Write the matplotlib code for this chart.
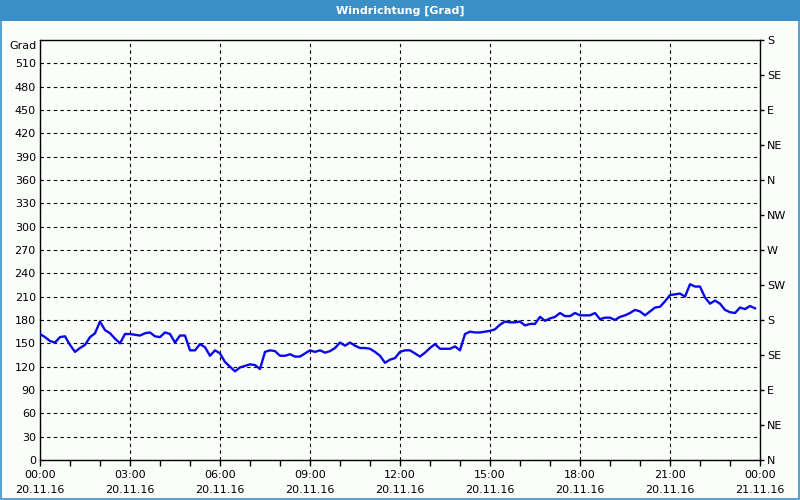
import matplotlib
matplotlib.use("Agg")
import matplotlib.pyplot as plt
import matplotlib.dates as mdates
from matplotlib.patches import Rectangle
from matplotlib.ticker import FixedLocator, NullFormatter
import pandas as pd

title = "Windrichtung [Grad]"
unit_label = "Grad"
start = "2016-11-20 00:00"
end = "2016-11-21 00:00"
interval = "10min"

values = [
    162, 158, 153, 151, 158, 159, 148, 139, 144, 148, 158, 163,
    178, 167, 163, 156, 150, 162, 162, 161, 160, 163, 164, 159,
    158, 164, 162, 151, 160, 160, 141, 141, 149, 145, 134, 141,
    137, 126, 120, 114, 119, 121, 123, 122, 117, 139, 141, 140,
    134, 134, 136, 133, 133, 137, 141, 139, 141, 138, 140, 144,
    151, 147, 151, 147, 144, 144, 143, 139, 134, 125, 129, 131,
    139, 141, 141, 137, 133, 138, 144, 149, 143, 143, 143, 146,
    141, 162, 165, 164, 164, 165, 166, 168, 174, 178, 177, 177,
    178, 173, 175, 175, 184, 179, 182, 184, 189, 185, 185, 189,
    186, 186, 186, 189, 181, 183, 183, 180, 184, 186, 189, 193,
    191, 186, 191, 196, 197, 204, 212, 213, 214, 210, 226, 223,
    223, 209, 201, 205, 201, 193, 190, 189, 196, 194, 198, 195,
]

left_ticks = list(range(0, 540, 30))
right_ticks = list(range(0, 541, 45))
right_labels = ["N", "NE", "E", "SE", "S", "SW", "W", "NW", "N", "NE", "E", "SE", "S"]
y_max = 540

times = pd.date_range(start, periods=len(values), freq=interval)

bg = "#fafdfa"
frame_blue = "#3b8fc7"
line_blue = "#0a0ae8"

plt.rcParams['font.family'] = ['DejaVu Sans']
fig = plt.figure(figsize=(8, 5), dpi=100, facecolor=bg)

# title bar
fig.patches.append(Rectangle((0, 1 - 21 / 500), 1, 21 / 500, transform=fig.transFigure,
                             facecolor=frame_blue, edgecolor="none", zorder=0))
fig.text(0.5, 1 - 10.5 / 500, title, ha="center", va="center", color="white",
         fontsize=8, fontweight="bold")
# window border
fig.patches.append(Rectangle((0.0008, 0.0012), 0.9984, 0.9976, transform=fig.transFigure,
                             facecolor="none", edgecolor=frame_blue, linewidth=1.2, zorder=0))

ax = fig.add_axes([40 / 800, 40 / 500, 720 / 800, 420 / 500])
ax.set_facecolor(bg)
ax.plot(times, values, color=line_blue, linewidth=1.7, solid_joinstyle="round", zorder=3)

ax.set_xlim(pd.Timestamp(start), pd.Timestamp(end))
ax.set_ylim(0, y_max)

ax.xaxis.set_major_locator(mdates.HourLocator(byhour=range(0, 24, 3)))
ax.xaxis.set_minor_locator(mdates.HourLocator())
ax.xaxis.set_major_formatter(mdates.DateFormatter("%H:%M\n%d.%m.%y"))
ax.xaxis.set_minor_formatter(NullFormatter())
ax.tick_params(axis="x", which="both", direction="out", length=4, width=1,
               labelsize=8, pad=3, colors="black")
for lbl in ax.get_xticklabels():
    lbl.set_linespacing(1.7)

ax.yaxis.set_major_locator(FixedLocator(left_ticks))
ax.tick_params(axis="y", which="both", length=0, labelsize=8, pad=3)

ax.grid(True, which="major", color="black", linestyle=(0, (3, 3)), linewidth=0.8)

for sp in ax.spines.values():
    sp.set_color("black")
    sp.set_linewidth(1)

ax.annotate(unit_label, xy=(0, y_max), xycoords=ax.get_yaxis_transform(),
            xytext=(-2.5, -1), textcoords="offset points",
            ha="right", va="top", fontsize=8)

ax2 = ax.twinx()
ax2.set_ylim(0, y_max)
ax2.yaxis.set_major_locator(FixedLocator(right_ticks))
ax2.set_yticklabels(right_labels)
ax2.tick_params(axis="y", direction="out", length=3, width=1, labelsize=8, pad=2)
for sp in ax2.spines.values():
    sp.set_visible(False)

fig.savefig("out.png", dpi=100, facecolor=bg)
